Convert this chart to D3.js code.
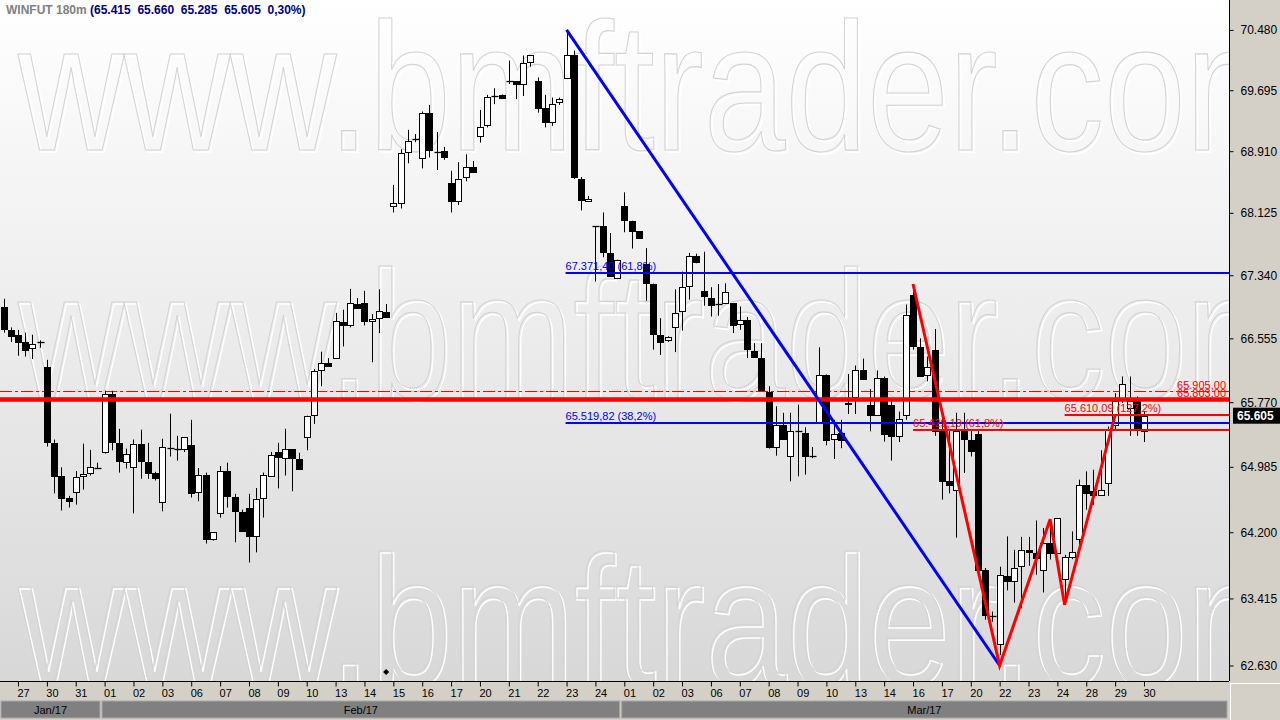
<!DOCTYPE html>
<html><head><meta charset="utf-8">
<script src="https://cdn.jsdelivr.net/npm/d3@7"></script>
<style>
html,body{margin:0;padding:0;background:#fff;overflow:hidden;}
svg{display:block;font-family:"Liberation Sans",Arial,sans-serif;}
text{white-space:pre;}
</style>
</head><body>
<svg id="c" width="1280" height="720"></svg>
<script>
// ---------- DATA ----------
const symbolTitle = "WINFUT 180m";
const headerValues = " (65.415  65.660  65.285  65.605  0,30%)";
const dayLabels = ["27","30","31","01","02","03","06","07","08","09","10","13","14","15","16","17","20","21","22","23","24",
  "01","02","03","06","07","08","09","10","13","14","16","17","20","22","23","24","28","29","30"];
const monthLabels = ["Jan/17","Feb/17","Mar/17"];
const monthStartDay = [0, 3, 21];
const barsPerDay = 4;
const firstDayBar = 2;
const opens = [66.945,66.66,66.595,66.51,66.435,66.5,66.2,65.275,64.875,64.61,64.68,64.875,64.91,64.97,65.17,65.87,65.275,65.04,64.98,65.26,
65.04,64.91,64.56,65.215,65.2,65.2,65.25,64.68,64.885,64.125,64.43,64.935,64.62,64.445,64.49,64.15,64.605,64.875,65.165,65.09,
65.2,65.08,65.345,65.615,66.165,66.25,66.31,66.76,66.72,66.985,66.995,66.77,66.805,66.88,68.215,68.255,68.905,69.065,68.82,69.4,
68.905,68.915,68.505,68.27,68.575,68.71,69.1,69.245,69.62,69.635,69.81,69.815,69.775,70.06,69.815,69.465,69.29,69.54,69.85,70.155,
68.555,68.275,67.955,67.96,67.62,67.31,68.215,68.025,67.89,67.48,67.235,66.595,66.53,66.695,66.895,67.2,67.575,67.145,67.055,66.975,
66.995,66.995,66.73,66.785,66.4,66.31,65.9,65.225,65.495,65.11,65.415,65.395,65.12,65.525,66.105,65.32,65.395,65.75,65.835,66.17,
65.74,65.61,66.065,65.74,65.36,65.615,67.095,66.445,66.105,66.415,65.415,64.81,64.71,65.415,65.315,65.385,63.755,63.2,62.88,63.685,
63.615,63.8,63.99,63.95,63.755,64.07,63.95,63.645,63.91,64.12,64.76,64.69,64.65,64.79,65.495,65.81,65.7,65.78,65.415];
const highs = [67.045,66.69,66.66,66.625,66.6,66.53,66.29,65.315,64.98,64.635,64.935,65.265,65.19,65.035,65.91,65.91,65.445,65.205,65.315,65.435,
65.275,64.925,65.325,65.63,65.36,65.345,65.555,64.97,64.915,64.2,64.995,65.035,64.66,64.47,64.66,64.73,64.915,65.165,65.275,65.445,
65.2,65.155,65.605,66.175,66.39,66.31,66.87,66.91,67.17,67.055,67.145,66.855,67.165,66.98,68.48,68.935,69.185,69.13,69.42,69.505,
69.155,68.965,68.66,68.77,68.87,68.785,69.44,69.635,69.72,69.64,70.08,69.815,70.145,70.15,69.86,69.635,69.6,69.6,70.48,70.21,
68.58,68.34,67.955,68.13,67.87,67.535,68.385,68.025,67.89,67.68,67.235,66.805,66.58,67.165,67.385,67.62,67.61,67.635,67.19,67.23,
67.24,66.995,66.95,66.82,66.495,66.495,65.965,65.72,65.64,65.64,65.74,65.465,65.225,66.445,66.11,65.555,65.555,66.115,66.22,66.305,
65.93,66.16,66.085,65.82,65.655,66.975,67.23,66.555,66.33,66.67,65.64,65.435,65.64,65.64,65.435,65.435,63.775,63.26,63.79,64.15,
63.99,64.145,64.145,64.34,64.25,64.355,64.37,63.93,64.21,64.83,64.93,64.95,65.185,65.475,65.88,66.085,66.085,65.84,65.66];
const lows = [66.625,66.51,66.34,66.33,66.3,66.44,65.23,64.665,64.46,64.495,64.53,64.71,64.88,64.965,65.145,65.185,64.915,64.965,64.425,64.84,
64.84,64.82,64.45,65.11,65.06,65.165,64.615,64.57,64.065,64.1,64.375,64.495,64.08,64.22,63.84,63.96,64.375,64.875,64.725,64.88,
64.69,64.95,65.185,65.505,65.965,66.21,66.31,66.455,66.69,66.925,66.715,66.26,66.62,66.815,68.13,68.18,68.755,69.025,68.69,68.83,
68.67,68.8,68.13,68.225,68.525,68.65,69.02,69.215,69.515,69.6,69.775,69.58,69.62,70.0,69.405,69.215,69.235,69.505,69.84,68.555,
68.155,68.275,67.26,67.565,67.325,67.305,67.88,67.675,67.805,67.02,66.415,66.35,66.51,66.385,66.65,67.035,67.49,66.96,66.825,66.835,
66.985,66.62,66.66,66.31,66.325,65.915,65.205,65.12,65.32,64.81,64.87,64.89,65.09,65.52,65.245,65.08,65.21,65.625,65.625,66.055,
65.415,65.605,65.29,65.06,65.285,65.555,66.415,66.095,66.025,65.36,64.59,64.665,64.135,64.91,65.11,63.73,63.165,63.14,62.75,63.51,
63.365,63.3,63.8,63.695,63.485,63.875,63.95,63.34,63.88,63.99,64.47,64.53,64.635,64.635,65.435,65.76,65.36,65.36,65.285];
const closes = [66.675,66.59,66.505,66.415,66.485,66.505,65.29,64.88,64.615,64.57,64.86,64.9,64.98,64.97,65.87,65.28,65.05,65.14,65.26,65.06,
64.91,64.845,65.225,65.215,65.2,65.345,64.665,64.885,64.125,64.2,64.935,64.63,64.45,64.22,64.15,64.595,64.885,65.125,65.1,65.2,
65.09,64.955,65.6,66.155,66.25,66.21,66.77,66.72,66.995,66.925,66.765,66.795,66.895,66.815,68.25,68.885,69.035,69.065,69.4,68.92,
68.905,68.83,68.27,68.555,68.71,68.65,69.225,69.605,69.62,69.6,69.81,69.77,70.045,70.15,69.47,69.29,69.515,69.585,70.155,68.575,
68.285,68.305,67.955,67.625,67.325,67.535,68.03,67.89,67.805,67.24,66.605,66.515,66.575,66.875,67.19,67.585,67.51,67.075,66.965,66.975,
67.13,66.725,66.78,66.42,66.325,65.915,65.22,65.49,65.32,65.42,65.415,65.12,65.12,66.105,65.305,65.38,65.305,65.765,66.17,66.055,
65.61,66.065,65.38,65.36,65.57,66.845,66.455,66.095,66.2,65.415,64.81,64.76,65.415,65.32,65.18,63.755,63.215,63.205,63.695,63.615,
63.775,63.99,63.97,63.895,64.07,63.95,64.37,63.905,63.97,64.76,64.675,64.65,64.7,65.435,65.78,65.995,65.78,65.435,65.605];
const priceTicks = [70.480,69.695,68.910,68.125,67.340,66.555,65.770,64.985,64.200,63.415,62.630];
const lastPrice = 65.605;
// drawings
const blueTrend = [{bar:78, price:70.48},{bar:138, price:62.63}];
const blueFibPrices = [67.37140, 65.51982];
const blueFibLabels = ["67.371,40 (61,8%)","65.519,82 (38,2%)"];
const blueFibStartBar = 78;
const redZigzag = [{bar:126, price:67.23},{bar:138, price:62.63},{bar:145, price:64.355},{bar:147, price:63.34},{bar:154, price:65.61}];
const redFibPrices = [65.42919, 65.61009];
const redFibLabels = ["65.429,19 (61,8%)","65.610,09 (127,2%)"];
const redFibStartBars = [126, 147];
const redLevelPrices = [65.905, 65.803];
const redLevelLabels = ["65.905,00","65.803,00"];
const eventMarkerBar = 53;
const watermarkText = "www.bmftrader.com";

// ---------- LAYOUT ----------
const W = 1280, H = 720, plotR = 1229, plotB = 681;
const svg = d3.select("#c");
const nBars = opens.length;
const x = d3.scaleLinear().domain([0, nBars - 1]).range([3.56, 3.56 + 7.218 * (nBars - 1)]);
const y = d3.scaleLog().domain([62.4496, 70.8732]).range([plotB, 0]);
const px = i => Math.round(x(i)) + 0.5;

const defs = svg.append("defs");
const grad = defs.append("linearGradient").attr("id","bg").attr("x1",0).attr("y1",0).attr("x2",0).attr("y2",1);
grad.append("stop").attr("offset","0%").attr("stop-color","#ffffff");
grad.append("stop").attr("offset","100%").attr("stop-color","#d8d8d8");
defs.append("clipPath").attr("id","plotclip").append("rect").attr("x",0).attr("y",0).attr("width",plotR).attr("height",plotB);

svg.append("rect").attr("x",0).attr("y",0).attr("width",plotR).attr("height",plotB).attr("fill","url(#bg)");

const plot = svg.append("g").attr("clip-path","url(#plotclip)");

// watermark (decorative background text)
const wm = plot.append("g").attr("aria-hidden","true");
[150, 398, 683].forEach(by => {
  wm.append("text").attr("x", 20).attr("y", by + 2)
    .attr("font-size", 182).attr("textLength", 1290).attr("lengthAdjust","spacingAndGlyphs")
    .attr("fill","none").attr("stroke","#ffffff").attr("stroke-width",1.6).text(watermarkText);
  wm.append("text").attr("x", 18).attr("y", by)
    .attr("font-size", 182).attr("textLength", 1290).attr("lengthAdjust","spacingAndGlyphs")
    .attr("fill","none").attr("stroke","#d3d3d3").attr("stroke-width",1.2).text(watermarkText);
});

// red dash-dot level
plot.append("line").attr("x1",0).attr("x2",plotR).attr("y1",Math.round(y(redLevelPrices[0]))+0.5).attr("y2",Math.round(y(redLevelPrices[0]))+0.5)
  .attr("stroke","#ff0000").attr("stroke-width",1).attr("stroke-dasharray","12,3,3,3");

// candles
const bars = d3.range(nBars);
const cg = plot.append("g");
cg.selectAll("line.wick").data(bars).join("line").attr("class","wick")
  .attr("x1", i => px(i)).attr("x2", i => px(i))
  .attr("y1", i => y(highs[i])).attr("y2", i => y(lows[i]))
  .attr("stroke","#000").attr("stroke-width",1);
cg.selectAll("rect.body").data(bars.filter(i => Math.abs(closes[i]-opens[i]) >= 0.012)).join("rect").attr("class","body")
  .attr("x", i => px(i) - 3).attr("width", 6)
  .attr("y", i => Math.round(y(Math.max(opens[i],closes[i]))) + 0.5)
  .attr("height", i => Math.max(1, Math.round(y(Math.min(opens[i],closes[i]))) - Math.round(y(Math.max(opens[i],closes[i])))))
  .attr("fill", i => closes[i] > opens[i] ? "#ffffff" : "#000000")
  .attr("stroke","#000").attr("stroke-width",1);
cg.selectAll("line.doji").data(bars.filter(i => Math.abs(closes[i]-opens[i]) < 0.012)).join("line").attr("class","doji")
  .attr("x1", i => px(i) - 3).attr("x2", i => px(i) + 4)
  .attr("y1", i => Math.round(y(closes[i])) + 0.5).attr("y2", i => Math.round(y(closes[i])) + 0.5)
  .attr("stroke","#000").attr("stroke-width",1.3);

// thick red level
plot.append("line").attr("x1",0).attr("x2",plotR).attr("y1",y(redLevelPrices[1])).attr("y2",y(redLevelPrices[1]))
  .attr("stroke","#ff0000").attr("stroke-width",4.5);
redLevelPrices.forEach((p,k) => {
  plot.append("text").attr("x", plotR - 3).attr("y", y(p) - 2).attr("text-anchor","end")
    .attr("font-size", 11).attr("fill","#ff0000").text(redLevelLabels[k]);
});

// blue fibonacci
blueFibPrices.forEach((p,k) => {
  const yy = Math.round(y(p));
  plot.append("line").attr("x1", x(blueFibStartBar) - 1).attr("x2", plotR).attr("y1", yy).attr("y2", yy)
    .attr("stroke","#0000ff").attr("stroke-width",2);
  plot.append("text").attr("x", x(blueFibStartBar) - 1).attr("y", yy - 3)
    .attr("font-size", 11).attr("fill","#0000ff").text(blueFibLabels[k]);
});
plot.append("path").datum(blueTrend)
  .attr("d", d3.line().x(d => x(d.bar)).y(d => y(d.price)))
  .attr("fill","none").attr("stroke","#0000ff").attr("stroke-width",3);

// red fibonacci
redFibPrices.forEach((p,k) => {
  const yy = Math.round(y(p));
  plot.append("line").attr("x1", x(redFibStartBars[k])).attr("x2", plotR).attr("y1", yy).attr("y2", yy)
    .attr("stroke","#ff0000").attr("stroke-width",2);
  plot.append("text").attr("x", x(redFibStartBars[k])).attr("y", yy - 3)
    .attr("font-size", 11).attr("fill","#ff0000").text(redFibLabels[k]);
});
plot.append("path").datum(redZigzag)
  .attr("d", d3.line().x(d => x(d.bar)).y(d => y(d.price)))
  .attr("fill","none").attr("stroke","#ff0000").attr("stroke-width",3).attr("stroke-linejoin","miter");

// event marker
const mx = x(eventMarkerBar), my = plotB - 9;
plot.append("path").attr("d", `M${mx},${my-3} L${mx+3},${my} L${mx},${my+3} L${mx-3},${my} Z`).attr("fill","#000");

// title
const t = svg.append("text").attr("x", 6).attr("y", 14).attr("font-size", 12).attr("font-weight","bold");
t.append("tspan").attr("fill","#808080").text(symbolTitle);
t.append("tspan").attr("fill","#000080").text(headerValues);

// ---------- RIGHT AXIS ----------
svg.append("rect").attr("x", plotR).attr("y", 0).attr("width", W - plotR).attr("height", plotB).attr("fill","#d4d0c8");
const ya = svg.append("g").attr("transform", `translate(${plotR + 0.5},0)`)
  .call(d3.axisRight(y).tickValues(priceTicks).tickFormat(d3.format(".3f")).tickSize(4).tickPadding(7));
ya.select(".domain").remove();
ya.selectAll(".tick line").attr("stroke","#000");
ya.selectAll(".tick text").attr("font-size", 12).attr("font-family","Liberation Sans, Arial, sans-serif").attr("fill","#000");
svg.append("line").attr("x1", plotR + 0.5).attr("x2", plotR + 0.5).attr("y1", 0).attr("y2", plotB).attr("stroke","#000");
// last price box
const ly = y(lastPrice);
svg.append("rect").attr("x", plotR + 4).attr("y", ly - 8).attr("width", W - plotR - 4).attr("height", 16).attr("fill","#000");
svg.append("text").attr("x", plotR + 8).attr("y", ly + 4.5).attr("font-size", 12).attr("font-weight","bold").attr("fill","#fff")
  .text(d3.format(".3f")(lastPrice));

// ---------- BOTTOM AXIS ----------
svg.append("rect").attr("x", 0).attr("y", plotB).attr("width", W).attr("height", H - plotB).attr("fill","#d4d0c8");
svg.append("line").attr("x1", 0).attr("x2", plotR).attr("y1", plotB + 0.5).attr("y2", plotB + 0.5).attr("stroke","#000");
const dayIdx = dayLabels.map((d,k) => firstDayBar + k * barsPerDay);
const xa = svg.append("g").attr("transform", `translate(0,${plotB + 0.5})`)
  .call(d3.axisBottom(x).tickValues(dayIdx).tickFormat((d,k) => dayLabels[k]).tickSize(5).tickPadding(3));
xa.select(".domain").remove();
xa.selectAll(".tick line").attr("stroke","#000");
xa.selectAll(".tick text").attr("font-size", 11).attr("font-family","Liberation Sans, Arial, sans-serif")
  .attr("fill","#000").attr("text-anchor","start").attr("x",-1);
// month bands
const half = 7.218 / 2;
monthLabels.forEach((m,k) => {
  const x0 = k === 0 ? 1 : x(dayIdx[monthStartDay[k]]) - half + 1;
  const x1 = k === monthLabels.length - 1 ? plotR - 2 : x(dayIdx[monthStartDay[k+1]]) - half - 1;
  svg.append("rect").attr("x", x0).attr("y", plotB + 20).attr("width", x1 - x0).attr("height", 17)
    .attr("fill","#808080").attr("stroke","#a8a8a8").attr("stroke-width",1);
  svg.append("text").attr("x", (x0 + x1) / 2).attr("y", plotB + 33).attr("text-anchor","middle")
    .attr("font-size", 11).attr("fill","#000").text(m);
});
// corner
svg.append("line").attr("x1", plotR + 1.5).attr("x2", plotR + 1.5).attr("y1", plotB + 2).attr("y2", H).attr("stroke","#fff");
svg.append("line").attr("x1", plotR + 1.5).attr("x2", W).attr("y1", plotB + 2.5).attr("y2", plotB + 2.5).attr("stroke","#fff");
</script>
</body></html>
